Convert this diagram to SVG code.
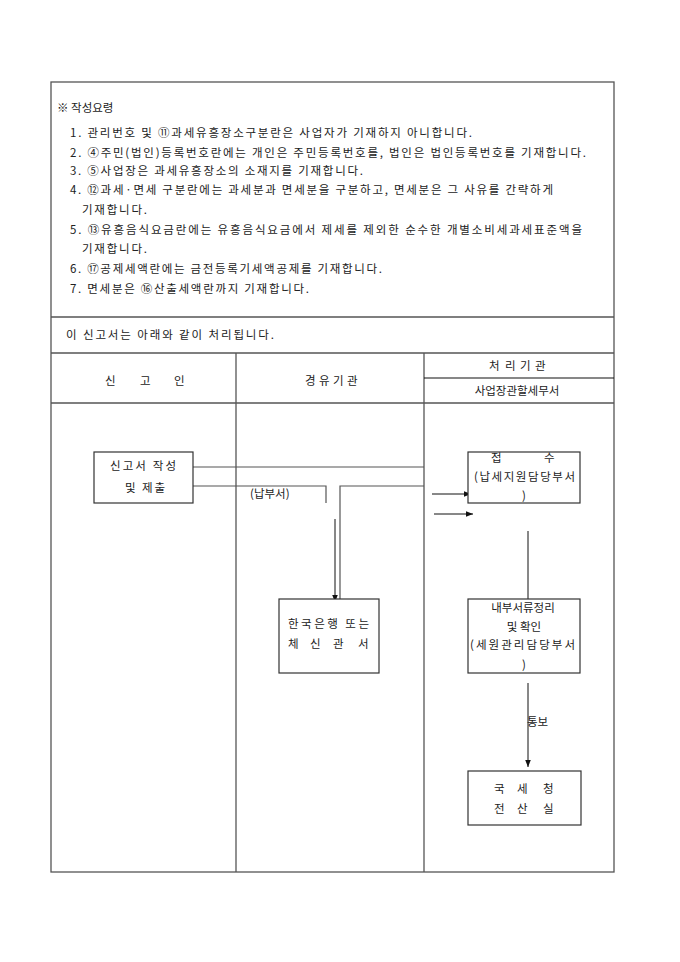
<svg xmlns="http://www.w3.org/2000/svg" width="680" height="962" viewBox="0 0 680 962">
<style>
text{font-family:"Noto Sans CJK KR","Noto Sans",sans-serif;font-size:11.5px;fill:#222}
.frame{fill:none;stroke:#555;stroke-width:1.3}
.dk{stroke:#111;stroke-width:1.2;fill:none}
.box{fill:#fff;stroke:#333;stroke-width:1.2}
.ln{stroke:#555;stroke-width:1.2;fill:none}
.ar{stroke:#111;stroke-width:1;fill:none;marker-end:url(#ah)}
.m{text-anchor:middle}
</style>
<defs>
<marker id="ah" viewBox="0 0 10 10" refX="10" refY="5" markerWidth="7" markerHeight="7" orient="auto" markerUnits="userSpaceOnUse"><path d="M0,1 L10,5 L0,9z" fill="#111"/></marker>
</defs>
<rect id="background" x="0" y="0" width="680" height="962" fill="#fff"/>
<g id="frame">
<rect class="frame" x="51" y="82" width="563" height="790"/>
<line class="frame" x1="51" y1="317" x2="614" y2="317"/>
<line class="frame" x1="51" y1="353" x2="614" y2="353"/>
<line class="frame" x1="51" y1="403" x2="614" y2="403"/>
<line class="frame" x1="236" y1="353" x2="236" y2="872"/>
<line class="frame" x1="424" y1="353" x2="424" y2="872"/>
<line class="dk" x1="424" y1="378" x2="614" y2="378"/>
</g>
<g id="instructions">
<text x="57" y="112">※ 작성요령</text>
<text x="70" y="137" textLength="402" lengthAdjust="spacing">1. 관리번호 및 ⑪과세유흥장소구분란은 사업자가 기재하지 아니합니다.</text>
<text x="70" y="157" textLength="516" lengthAdjust="spacing">2. ④주민(법인)등록번호란에는 개인은 주민등록번호를, 법인은 법인등록번호를 기재합니다.</text>
<text x="70" y="175" textLength="293" lengthAdjust="spacing">3. ⑤사업장은 과세유흥장소의 소재지를 기재합니다.</text>
<text x="70" y="194" textLength="483" lengthAdjust="spacing">4. ⑫과세·면세 구분란에는 과세분과 면세분을 구분하고, 면세분은 그 사유를 간략하게</text>
<text x="82" y="214" textLength="65" lengthAdjust="spacing">기재합니다.</text>
<text x="70" y="234" textLength="512" lengthAdjust="spacing">5. ⑬유흥음식요금란에는 유흥음식요금에서 제세를 제외한 순수한 개별소비세과세표준액을</text>
<text x="82" y="253" textLength="65" lengthAdjust="spacing">기재합니다.</text>
<text x="70" y="273" textLength="312" lengthAdjust="spacing">6. ⑰공제세액란에는 금전등록기세액공제를 기재합니다.</text>
<text x="70" y="293" textLength="239" lengthAdjust="spacing">7. 면세분은 ⑯산출세액란까지 기재합니다.</text>
<text x="66" y="339" textLength="208" lengthAdjust="spacing">이 신고서는 아래와 같이 처리됩니다.</text>
</g>
<g id="headers">
<text x="105 140 174" y="385">신고인</text>
<text x="305 319 333 347" y="385">경유기관</text>
<text x="489 505 520 535" y="370">처리기관</text>
<text class="m" x="517" y="395">사업장관할세무서</text>
</g>
<g id="connectors">
<polyline class="ln" points="193,467 424,467"/>
<polyline class="ln" points="193,486 326,486 326,503"/>
<polyline class="ln" points="424,486 340,486 340,599"/>
<line class="ar" x1="335" y1="519" x2="335" y2="602"/>
<line class="ar" x1="432" y1="494" x2="471" y2="494"/>
<line class="ar" x1="434" y1="514" x2="473" y2="514"/>
<line class="ar" x1="528" y1="531" x2="528" y2="611"/>
<line class="ar" x1="528" y1="683" x2="528" y2="767"/>
<text x="250" y="498">(납부서)</text>
<text x="527" y="726">통보</text>
</g>
<g id="node-submit">
<rect class="box" x="94" y="452" width="99" height="51"/>
<text x="110" y="470" textLength="66" lengthAdjust="spacing">신고서 작성</text>
<text x="125" y="492" textLength="40" lengthAdjust="spacing">및 제출</text>
</g>
<g id="node-receipt">
<rect class="box" x="468" y="452" width="112" height="51" fill="none"/>
<text x="491 544" y="462">접수</text>
<text x="474" y="481" textLength="101" lengthAdjust="spacing">(납세지원담당부서</text>
<text class="m" x="524" y="500">)</text>
</g>
<g id="node-bank">
<rect class="box" x="279" y="599" width="100" height="74"/>
<text x="288" y="628" textLength="81" lengthAdjust="spacing">한국은행 또는</text>
<text x="288 310 333 358" y="648">체신관서</text>
</g>
<g id="node-internal">
<rect class="box" x="468" y="599" width="112" height="74"/>
<text class="m" x="523" y="612">내부서류정리</text>
<text class="m" x="524" y="631">및 확인</text>
<text x="470" y="649" textLength="105" lengthAdjust="spacing">(세원관리담당부서</text>
<text class="m" x="524" y="669">)</text>
</g>
<g id="node-nts">
<rect class="box" x="468" y="771" width="113" height="54"/>
<text x="494 517 543" y="793">국세청</text>
<text x="494 517 543" y="813">전산실</text>
</g>
</svg>
